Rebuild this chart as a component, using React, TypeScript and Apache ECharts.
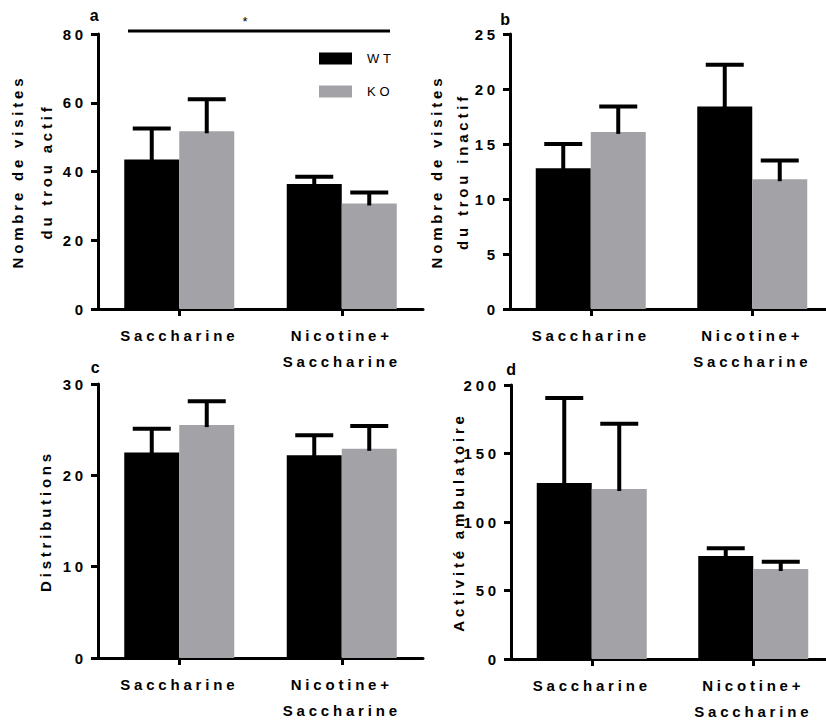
import React, { useEffect, useRef } from "react";
import * as echarts from "echarts";

const categories = ["Saccharine", "Nicotine+\nSaccharine"];
const legendNames = ["WT", "KO"];

// Panel a: Nombre de visites du trou actif
const wtA = [43.5, 36.4];
const wtAErr = [9.0, 2.1];
const koA = [51.7, 30.7];
const koAErr = [9.3, 3.2];

// Panel b: Nombre de visites du trou inactif
const wtB = [12.8, 18.4];
const wtBErr = [2.2, 3.8];
const koB = [16.1, 11.8];
const koBErr = [2.3, 1.7];

// Panel c: Distributions
const wtC = [22.5, 22.2];
const wtCErr = [2.6, 2.2];
const koC = [25.5, 22.9];
const koCErr = [2.6, 2.5];

// Panel d: Activité ambulatoire
const wtD = [128.5, 75.2];
const wtDErr = [62.0, 5.6];
const koD = [124.1, 65.7];
const koDErr = [47.7, 5.3];

const yNames = [
  "Nombre de visites\ndu trou actif",
  "Nombre de visites\ndu trou inactif",
  "Distributions",
  "Activité ambulatoire",
];
const yMax = [80, 25, 30, 200];
const yInterval = [20, 5, 10, 50];
const panelLetters = ["a", "b", "c", "d"];

const FONT = "'Liberation Sans', Arial, Helvetica, sans-serif";
const GRAY = "#a3a3a7";
const BAR_W = 55;

export default function App() {
  const ref = useRef<HTMLDivElement>(null);

  useEffect(() => {
    document.body.style.margin = "0";
    if (!ref.current) return;
    const chart = echarts.init(ref.current, null, { renderer: "svg" });

    const grids = [
      { left: 98, top: 34, width: 325, height: 275 },
      { left: 510, top: 34, width: 323, height: 275 },
      { left: 98, top: 384, width: 325, height: 274 },
      { left: 511, top: 385, width: 323, height: 274 },
    ];
    const nameGaps = [37, 35, 39, 39];
    const nameLineHeights = [29, 26, 28, 28];

    const panels = [
      { wt: wtA, wtE: wtAErr, ko: koA, koE: koAErr },
      { wt: wtB, wtE: wtBErr, ko: koB, koE: koBErr },
      { wt: wtC, wtE: wtCErr, ko: koC, koE: koCErr },
      { wt: wtD, wtE: wtDErr, ko: koD, koE: koDErr },
    ];

    const errRender = (offset: number) => (params: any, api: any) => {
      const c = api.value(0);
      const m = api.value(1);
      const e = api.value(2);
      const p0 = api.coord([c, m]);
      const p1 = api.coord([c, m + e]);
      const x = p0[0] + offset;
      return {
        type: "group",
        children: [
          {
            type: "line",
            shape: { x1: x, y1: p0[1] + 2, x2: x, y2: p1[1] },
            style: { stroke: "#000", lineWidth: 4 },
          },
          {
            type: "line",
            shape: { x1: x - 19, y1: p1[1], x2: x + 19, y2: p1[1] },
            style: { stroke: "#000", lineWidth: 4 },
          },
        ],
      };
    };

    const series: any[] = [];
    panels.forEach((p, i) => {
      series.push({
        type: "bar",
        name: "WT",
        xAxisIndex: i,
        yAxisIndex: i,
        data: p.wt,
        barWidth: BAR_W,
        barGap: "0%",
        itemStyle: { color: "#000" },
      });
      series.push({
        type: "bar",
        name: "KO",
        xAxisIndex: i,
        yAxisIndex: i,
        data: p.ko,
        barWidth: BAR_W,
        barGap: "0%",
        itemStyle: { color: GRAY },
      });
      series.push({
        type: "custom",
        name: "WT err",
        xAxisIndex: i,
        yAxisIndex: i,
        encode: { x: 0, y: 1 },
        data: categories.map((_, k) => [k, p.wt[k], p.wtE[k]]),
        renderItem: errRender(-BAR_W / 2),
        z: 3,
      });
      series.push({
        type: "custom",
        name: "KO err",
        xAxisIndex: i,
        yAxisIndex: i,
        encode: { x: 0, y: 1 },
        data: categories.map((_, k) => [k, p.ko[k], p.koE[k]]),
        renderItem: errRender(BAR_W / 2),
        z: 3,
      });
    });

    const letterPos = [
      [96, 15],
      [507, 19],
      [97, 367],
      [513, 369],
    ];

    const option: any = {
      animation: false,
      backgroundColor: "#fff",
      textStyle: { fontFamily: FONT },
      grid: grids.map((g) => ({
        ...g,
        containLabel: false,
        outerBoundsMode: "none",
      })),
      legend: {
        data: legendNames,
        orient: "vertical",
        left: 319,
        top: 52,
        padding: 0,
        itemWidth: 33,
        itemHeight: 12,
        itemGap: 20,
        icon: "rect",
        textStyle: {
          fontSize: 13,
          color: "#000",
          fontFamily: FONT,
          padding: [0, 0, 0, 10],
        },
      },
      xAxis: grids.map((_, i) => ({
        type: "category",
        gridIndex: i,
        data: categories,
        axisLine: { show: true, lineStyle: { color: "#000", width: 3 } },
        axisTick: {
          show: true,
          alignWithLabel: true,
          length: 7,
          lineStyle: { color: "#000", width: 3 },
        },
        axisLabel: {
          color: "#000",
          fontWeight: "bold",
          fontSize: 15,
          fontFamily: FONT,
          margin: 13,
          lineHeight: 26,
          interval: 0,
        },
        splitLine: { show: false },
      })),
      yAxis: grids.map((_, i) => ({
        type: "value",
        gridIndex: i,
        min: 0,
        max: yMax[i],
        interval: yInterval[i],
        name: yNames[i],
        nameLocation: "middle",
        nameGap: nameGaps[i],
        nameMoveOverlap: false,
        nameTextStyle: {
          color: "#000",
          fontWeight: "bold",
          fontSize: 15,
          fontFamily: FONT,
          lineHeight: nameLineHeights[i],
        },
        axisLine: { show: true, lineStyle: { color: "#000", width: 3 } },
        axisTick: { show: true, length: 7, lineStyle: { color: "#000", width: 3 } },
        axisLabel: {
          color: "#000",
          fontWeight: "bold",
          fontSize: 15,
          fontFamily: FONT,
          margin: 11,
        },
        splitLine: { show: false },
      })),
      series,
      graphic: [
        {
          type: "line",
          shape: { x1: 128, y1: 31, x2: 390, y2: 31 },
          style: { stroke: "#000", lineWidth: 3 },
        },
        {
          type: "text",
          x: 247,
          y: 21,
          style: {
            text: "*",
            fontSize: 13,
            fontFamily: FONT,
            fill: "#000",
            textAlign: "center",
            textVerticalAlign: "middle",
          },
        },
        ...panelLetters.map((t, i) => ({
          type: "text",
          x: letterPos[i][0],
          y: letterPos[i][1],
          style: {
            text: t,
            fontSize: 16,
            fontWeight: "bold",
            fontFamily: FONT,
            fill: "#000",
            textAlign: "center",
            textVerticalAlign: "middle",
          },
        })),
      ],
    };

    chart.setOption(option);
    return () => chart.dispose();
  }, []);

  return (
    <>
      <style>{`.chart-root text { letter-spacing: 3.8px; }`}</style>
      <div className="chart-root" ref={ref} style={{ width: 826, height: 722 }} />
    </>
  );
}
